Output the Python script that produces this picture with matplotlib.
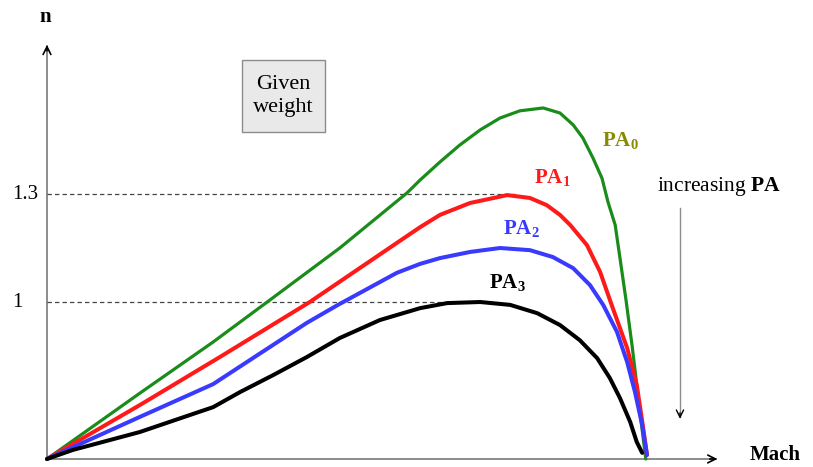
import numpy as np
import matplotlib
matplotlib.use("Agg")
import matplotlib.pyplot as plt
from matplotlib.patches import Rectangle

plt.rcParams["font.family"] = ["Liberation Serif", "DejaVu Serif"]
plt.rcParams["mathtext.fontset"] = "custom"
plt.rcParams["mathtext.rm"] = "Liberation Serif"
plt.rcParams["mathtext.bf"] = "Liberation Serif:bold"

# curves (Mach, n); the n axis is schematic, origin at n~0.564
mach_pa0 = [0, 0.155, 0.277, 0.367, 0.488, 0.600, 0.622, 0.655, 0.688, 0.722,
            0.755, 0.788, 0.827, 0.855, 0.877, 0.893, 0.910, 0.925, 0.935, 0.947,
            0.955, 0.965, 0.975, 0.985, 0.993, 0.998]
n_pa0 = [0.564, 0.747, 0.889, 1.000, 1.150, 1.303, 1.339, 1.389, 1.436, 1.478,
         1.511, 1.531, 1.539, 1.525, 1.492, 1.456, 1.400, 1.344, 1.278, 1.214,
         1.122, 1.006, 0.881, 0.742, 0.631, 0.564]

mach_pa1 = [0, 0.155, 0.288, 0.438, 0.583, 0.622, 0.655, 0.705, 0.767, 0.805,
            0.833, 0.855, 0.872, 0.900, 0.922, 0.943, 0.967, 0.983, 0.993, 1.000]
n_pa1 = [0.564, 0.714, 0.847, 1.000, 1.164, 1.208, 1.242, 1.275, 1.297, 1.289,
         1.269, 1.242, 1.214, 1.158, 1.083, 0.983, 0.872, 0.769, 0.658, 0.575]

mach_pa2 = [0, 0.155, 0.277, 0.433, 0.485, 0.583, 0.622, 0.655, 0.705, 0.755,
            0.805, 0.843, 0.877, 0.905, 0.927, 0.950, 0.967, 0.980, 0.992, 1.000]
n_pa2 = [0.564, 0.681, 0.772, 0.942, 0.992, 1.081, 1.106, 1.122, 1.139, 1.150,
         1.144, 1.125, 1.094, 1.047, 0.992, 0.917, 0.833, 0.750, 0.658, 0.575]

mach_pa3 = [0, 0.043, 0.155, 0.238, 0.277, 0.322, 0.377, 0.433, 0.488, 0.555,
            0.622, 0.667, 0.722, 0.772, 0.817, 0.855, 0.888, 0.917, 0.938, 0.955,
            0.972, 0.983, 0.992]
n_pa3 = [0.564, 0.589, 0.639, 0.686, 0.708, 0.750, 0.797, 0.847, 0.900, 0.950,
         0.983, 0.997, 1.000, 0.992, 0.969, 0.936, 0.894, 0.844, 0.789, 0.733,
         0.667, 0.611, 0.581]

curves = [
    (mach_pa0, n_pa0, "#1a8c1a", 2.3),
    (mach_pa1, n_pa1, "#ff1a1a", 2.9),
    (mach_pa2, n_pa2, "#3a3aff", 2.9),
    (mach_pa3, n_pa3, "black", 2.9),
]
ref_levels = [1.3, 1.0]
ref_ends = [0.78, 0.705]
tick_labels = ["1.3", "1"]

fig = plt.figure(figsize=(8.13, 4.67), dpi=100)
ax = fig.add_axes([0, 0, 1, 1])
ax.set_xlim(-0.0783, 1.2767)
ax.set_ylim(0.5417, 1.8389)
ax.axis("off")

x0, y0 = 0.0, 0.564
axis_col = "#8c8c8c"

# axes with arrows
ax.plot([x0, 1.115], [y0, y0], color=axis_col, lw=1.4, zorder=1)
ax.plot([x0, x0], [y0, 1.71], color=axis_col, lw=1.4, zorder=1)
ax.annotate("", xy=(1.122, y0), xytext=(1.10, y0),
            arrowprops=dict(arrowstyle="->", color="black", lw=1.2, mutation_scale=14))
ax.annotate("", xy=(x0, 1.722), xytext=(x0, 1.69),
            arrowprops=dict(arrowstyle="->", color="black", lw=1.2, mutation_scale=14))
ax.text(-0.003, 1.792, "n", fontsize=15, fontweight="bold", ha="center", va="center")
ax.text(1.213, 0.574, "Mach", fontsize=15, fontweight="bold", ha="center", va="center")

# reference levels
for lvl, xe, lab in zip(ref_levels, ref_ends, tick_labels):
    ax.plot([x0, xe], [lvl, lvl], color="#444444", lw=0.9, ls=(0, (3.5, 2.5)), zorder=1)
    ax.text(-0.058, lvl, lab, fontsize=15, ha="left", va="center")

for xs, ys, c, lw in curves:
    ax.plot(xs, ys, color=c, lw=lw, solid_capstyle="round", solid_joinstyle="round", zorder=3)

# curve labels
ax.text(0.955, 1.447, r"PA$_\mathbf{0}$", color="#8a8a00", fontsize=15, fontweight="bold", ha="center", va="center")
ax.text(0.842, 1.344, r"PA$_\mathbf{1}$", color="#ff1a1a", fontsize=15, fontweight="bold", ha="center", va="center")
ax.text(0.790, 1.203, r"PA$_\mathbf{2}$", color="#3a3aff", fontsize=15, fontweight="bold", ha="center", va="center")
ax.text(0.768, 1.053, r"PA$_\mathbf{3}$", color="black", fontsize=15, fontweight="bold", ha="center", va="center")

# given weight box
ax.add_patch(Rectangle((0.325, 1.472), 0.138, 0.200, facecolor="#e9e9e9",
                       edgecolor="#8c8c8c", lw=1.0, zorder=2))
ax.text(0.394, 1.572, "Given\nweight", fontsize=16, ha="center", va="center",
        linespacing=1.25, zorder=3)

# increasing PA arrow
ax.text(1.12, 1.322, r"increasing $\mathbf{PA}$", fontsize=15.5, ha="center", va="center")
ax.plot([1.055, 1.055], [1.26, 0.68], color="#8c8c8c", lw=1.0)
ax.annotate("", xy=(1.055, 0.668), xytext=(1.055, 0.70),
            arrowprops=dict(arrowstyle="->", color="black", lw=1.0, mutation_scale=13))

fig.savefig("out.png", dpi=100)
